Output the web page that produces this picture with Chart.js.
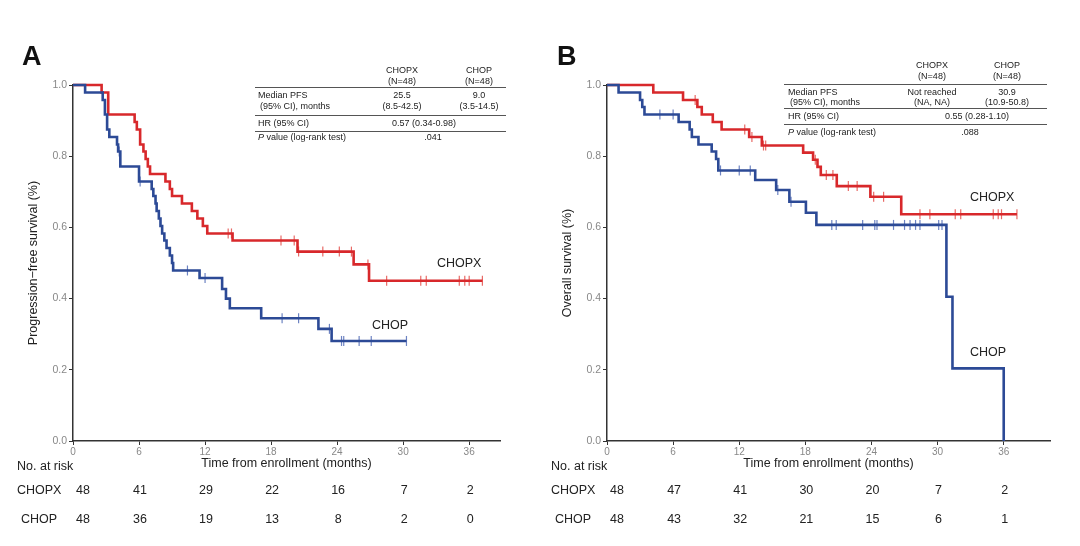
<!DOCTYPE html>
<html>
<head>
<meta charset="utf-8">
<script src="https://cdn.jsdelivr.net/npm/chart.js@4/dist/chart.umd.min.js"></script>
<style>
  body { margin: 0; background: #fff; }
  #page { position: relative; width: 1080px; height: 546px; overflow: hidden; font-family: Arial, "Liberation Sans", sans-serif; color: #222; }
  canvas { position: absolute; top: 0; }
  .t { position: absolute; white-space: nowrap; }
  .rule { position: absolute; height: 0; border-top: 1.3px solid #555; }
</style>
</head>
<body>
<div id="page">
  <canvas id="chartA" width="540" height="546" style="left:0"></canvas>
  <canvas id="chartB" width="540" height="546" style="left:540px"></canvas>
</div>
<script>
// Kaplan-Meier step points (months, survival)
const aChopxTime = [0, 2.6, 3.2, 5.6, 5.8, 6.1, 6.4, 6.6, 6.8, 7.0, 8.4, 8.8, 9.0, 9.9, 10.8, 11.3, 11.8, 12.2, 14.5, 20.4, 25.5, 26.9, 37.2];
const aChopxSurv = [1.0, 0.979, 0.917, 0.896, 0.875, 0.833, 0.813, 0.792, 0.771, 0.75, 0.729, 0.708, 0.688, 0.667, 0.646, 0.625, 0.604, 0.583, 0.563, 0.532, 0.496, 0.45, 0.45];
const aChopxCens = [14.1, 14.4, 18.9, 20.1, 20.5, 22.7, 24.2, 25.3, 26.8, 28.5, 31.6, 32.1, 35.1, 35.6, 36.0, 37.2];

const aChopTime = [0, 1.1, 2.7, 2.9, 3.1, 3.3, 4.0, 4.1, 4.3, 6.0, 7.15, 7.3, 7.5, 7.6, 7.8, 7.95, 8.1, 8.3, 8.5, 8.8, 9.0, 9.1, 11.5, 13.55, 13.9, 14.25, 17.1, 22.3, 23.5, 30.3];
const aChopSurv = [1.0, 0.979, 0.958, 0.917, 0.875, 0.854, 0.833, 0.813, 0.771, 0.729, 0.708, 0.688, 0.667, 0.646, 0.625, 0.604, 0.583, 0.563, 0.542, 0.521, 0.5, 0.479, 0.458, 0.427, 0.40, 0.373, 0.345, 0.315, 0.281, 0.281];
const aChopCens = [4.2, 6.1, 10.4, 12.0, 19.0, 20.5, 23.3, 24.4, 24.6, 26.0, 27.1, 30.3];

const bChopxTime = [0, 4.2, 6.9, 8.2, 8.6, 9.6, 10.4, 12.9, 14.05, 17.8, 18.7, 19.1, 19.4, 20.85, 23.9, 26.7, 37.2];
const bChopxSurv = [1.0, 0.979, 0.958, 0.938, 0.917, 0.896, 0.875, 0.854, 0.83, 0.81, 0.79, 0.77, 0.747, 0.716, 0.686, 0.637, 0.637];
const bChopxCens = [8.0, 12.5, 13.15, 14.2, 14.4, 18.9, 19.9, 20.5, 21.9, 22.7, 24.2, 25.1, 28.4, 29.3, 31.6, 32.1, 35.05, 35.5, 35.8, 37.2];

const bChopTime = [0, 1.05, 3.0, 3.2, 3.4, 6.5, 7.5, 7.7, 8.3, 9.5, 9.9, 10.1, 13.45, 15.35, 16.55, 18.05, 19.0, 30.8, 31.35, 36.0];
const bChopSurv = [1.0, 0.979, 0.958, 0.938, 0.917, 0.896, 0.875, 0.854, 0.833, 0.813, 0.792, 0.76, 0.733, 0.705, 0.672, 0.641, 0.607, 0.405, 0.204, 0.0];
const bChopCens = [4.8, 6.0, 10.3, 12.0, 13.0, 15.5, 16.7, 20.4, 20.8, 23.2, 24.3, 24.5, 26.0, 27.0, 27.5, 28.0, 28.4, 30.1, 30.4];

// Number at risk
const riskMonths = [0, 6, 12, 18, 24, 30, 36];
const aRiskChopx = [48, 41, 29, 22, 16, 7, 2];
const aRiskChop = [48, 36, 19, 13, 8, 2, 0];
const bRiskChopx = [48, 47, 41, 30, 20, 7, 2];
const bRiskChop = [48, 43, 32, 21, 15, 6, 1];

const RED = '#d8282b';
const BLUE = '#2c4a96';
const RED_TICK = '#e86a66';
const BLUE_TICK = '#6d83c2';

const page = document.getElementById('page');

function txt(html, x, y, opts) {
    opts = opts || {};
    const d = document.createElement('div');
    d.className = 't';
    d.innerHTML = html;
    d.style.left = x + 'px';
    d.style.top = y + 'px';
    d.style.fontSize = (opts.size || 12) + 'px';
    if (opts.color) d.style.color = opts.color;
    if (opts.weight) d.style.fontWeight = opts.weight;
    const tx = opts.align === 'center' ? '-50%' : (opts.align === 'right' ? '-100%' : '0');
    d.style.transform = 'translate(' + tx + ',-50%)';
    page.appendChild(d);
    return d;
}

function rule(x1, x2, y) {
    const d = document.createElement('div');
    d.className = 'rule';
    d.style.left = x1 + 'px';
    d.style.width = (x2 - x1) + 'px';
    d.style.top = y + 'px';
    page.appendChild(d);
}

function steps(times, surv) {
    return times.map((t, i) => ({ x: t, y: surv[i] }));
}

// survival level of the curve at a censor time
function censorPoints(times, surv, cens) {
    return cens.map(t => {
        let s = surv[0];
        for (let i = 0; i < times.length; i++) {
            if (times[i] <= t) s = surv[i];
        }
        return { x: t, y: s };
    });
}

function makeChart(id, yTitle, xMax, pad, yWidth, red, blue) {
    const lineSet = (data, color) => ({
        type: 'line',
        data: data,
        borderColor: color,
        borderWidth: 2.6,
        stepped: 'before',
        pointRadius: 0,
        fill: false,
        clip: false
    });
    const tickSet = (data, color) => ({
        type: 'scatter',
        data: data,
        borderColor: color,
        backgroundColor: color,
        borderWidth: 1.2,
        pointStyle: 'line',
        rotation: 90,
        pointRadius: 5,
        showLine: false,
        clip: false
    });
    return new Chart(document.getElementById(id), {
        type: 'line',
        data: {
            datasets: [
                lineSet(steps(blue.t, blue.s), BLUE),
                tickSet(censorPoints(blue.t, blue.s, blue.c), BLUE_TICK),
                lineSet(steps(red.t, red.s), RED),
                tickSet(censorPoints(red.t, red.s, red.c), RED_TICK)
            ]
        },
        options: {
            responsive: false,
            animation: false,
            layout: { padding: pad },
            plugins: { legend: { display: false }, tooltip: { enabled: false } },
            scales: {
                x: {
                    type: 'linear',
                    min: 0,
                    max: xMax,
                    afterBuildTicks: scale => { scale.ticks = riskMonths.map(v => ({ value: v })); },
                    afterFit: scale => { scale.height = 34; },
                    grid: { drawOnChartArea: false, drawTicks: true, tickLength: 4, color: '#333' },
                    border: { color: '#333', width: 1.5 },
                    ticks: { color: '#888', font: { size: 10, family: 'Arial' }, padding: 1, maxRotation: 0 },
                    title: { display: true, text: 'Time from enrollment (months)', color: '#222', font: { size: 12.5, family: 'Arial' }, padding: { top: 0, bottom: 4 } }
                },
                y: {
                    min: 0,
                    max: 1,
                    afterFit: scale => { scale.width = yWidth; },
                    grid: { drawOnChartArea: false, drawTicks: true, tickLength: 4, color: '#333' },
                    border: { color: '#333', width: 1.5 },
                    ticks: { stepSize: 0.2, color: '#888', font: { size: 10.5, family: 'Arial' }, padding: 2, callback: v => v.toFixed(1) },
                    title: { display: true, text: yTitle, color: '#222', font: { size: 12.5, family: 'Arial' }, padding: { top: 0, bottom: 6 } }
                }
            }
        }
    });
}

const chartA = makeChart('chartA', 'Progression\u2212free survival (%)', 38.8,
    { left: 26, right: 40, top: 85, bottom: 71 }, 47,
    { t: aChopxTime, s: aChopxSurv, c: aChopxCens },
    { t: aChopTime, s: aChopSurv, c: aChopCens });

const chartB = makeChart('chartB', 'Overall survival (%)', 40.2,
    { left: 20, right: 30, top: 85, bottom: 71 }, 47,
    { t: bChopxTime, s: bChopxSurv, c: bChopxCens },
    { t: bChopTime, s: bChopSurv, c: bChopCens });

// panel letters
txt('A', 22, 56, { size: 27, weight: 'bold', color: '#111' });
txt('B', 557, 56, { size: 27, weight: 'bold', color: '#111' });

// curve labels
txt('CHOPX', 437, 263, { size: 12.5 });
txt('CHOP', 372, 325, { size: 12.5 });
txt('CHOPX', 970, 197, { size: 12.5 });
txt('CHOP', 970, 352, { size: 12.5 });

// summary table A
const ts = 9;
txt('CHOPX', 402, 70, { size: ts, align: 'center' });
txt('(N=48)', 402, 81, { size: ts, align: 'center' });
txt('CHOP', 479, 70, { size: ts, align: 'center' });
txt('(N=48)', 479, 81, { size: ts, align: 'center' });
rule(255, 506, 87);
txt('Median PFS', 258, 94.5, { size: ts });
txt('(95% CI), months', 260, 106, { size: ts });
txt('25.5', 402, 94.5, { size: ts, align: 'center' });
txt('(8.5-42.5)', 402, 106, { size: ts, align: 'center' });
txt('9.0', 479, 94.5, { size: ts, align: 'center' });
txt('(3.5-14.5)', 479, 106, { size: ts, align: 'center' });
rule(255, 506, 115);
txt('HR (95% CI)', 258, 123, { size: ts });
txt('0.57 (0.34-0.98)', 424, 123, { size: ts, align: 'center' });
rule(255, 506, 131);
txt('<i>P</i> value (log-rank test)', 258, 137, { size: ts });
txt('.041', 433, 137, { size: ts, align: 'center' });

// summary table B
txt('CHOPX', 932, 65, { size: ts, align: 'center' });
txt('(N=48)', 932, 76, { size: ts, align: 'center' });
txt('CHOP', 1007, 65, { size: ts, align: 'center' });
txt('(N=48)', 1007, 76, { size: ts, align: 'center' });
rule(784, 1047, 83.5);
txt('Median PFS', 788, 91.5, { size: ts });
txt('(95% CI), months', 790, 101.5, { size: ts });
txt('Not reached', 932, 91.5, { size: ts, align: 'center' });
txt('(NA, NA)', 932, 101.5, { size: ts, align: 'center' });
txt('30.9', 1007, 91.5, { size: ts, align: 'center' });
txt('(10.9-50.8)', 1007, 101.5, { size: ts, align: 'center' });
rule(784, 1047, 107.7);
txt('HR (95% CI)', 788, 115.5, { size: ts });
txt('0.55 (0.28-1.10)', 977, 115.5, { size: ts, align: 'center' });
rule(784, 1047, 124);
txt('<i>P</i> value (log-rank test)', 788, 131.5, { size: ts });
txt('.088', 970, 131.5, { size: ts, align: 'center' });

// number at risk tables, placed with the charts' own x scales
function riskTable(chart, offsetX, labelX, chopx, chop) {
    txt('No. at risk', labelX, 466, { size: 12.5 });
    txt('CHOPX', labelX, 490, { size: 12.5 });
    txt('CHOP', labelX + 4, 519, { size: 12.5 });
    const xs = chart.scales.x;
    riskMonths.forEach((m, i) => {
        const x = offsetX + xs.getPixelForValue(m) + (m === 0 ? 10 : 1);
        txt(String(chopx[i]), x, 490, { size: 12.5, align: 'center' });
        txt(String(chop[i]), x, 519, { size: 12.5, align: 'center' });
    });
}
riskTable(chartA, 0, 17, aRiskChopx, aRiskChop);
riskTable(chartB, 540, 551, bRiskChopx, bRiskChop);
</script>
</body>
</html>
